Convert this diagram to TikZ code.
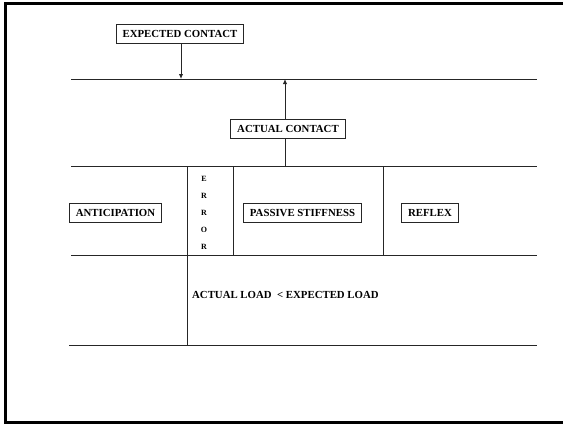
\documentclass[tikz,border=0pt]{standalone}
\usepackage{fontspec}
\setmainfont{Liberation Serif}
\usetikzlibrary{arrows.meta}
\definecolor{lnclr}{rgb}{0.15,0.15,0.15}

\begin{document}
\begin{tikzpicture}[line cap=butt,line join=miter,x=1pt,y=-1pt,
  lbox/.style={draw=lnclr,line width=0.9pt,inner xsep=6.5pt,minimum height=19pt,font=\fontsize{10.8}{12}\selectfont\bfseries},
  lbl/.style={inner sep=0pt,font=\fontsize{10.8}{12}\selectfont\bfseries},
  errl/.style={inner sep=0pt,font=\fontsize{8}{9}\selectfont\bfseries},
  ln/.style={draw=lnclr,line width=1pt},
  >={Latex[length=5pt,width=4.5pt]}]
\useasboundingbox (0,0) rectangle (563,424);
%\draw [help lines] (0,0) grid[step=50] (563,424);
% frame, open on the right
\draw [line width=3pt] (563,3.5)-- (5,3.5)-- (5,422.5)-- (563,422.5);
% horizontal rules
\coordinate (ta) at (71,79);
\coordinate (tb) at (537,79);
\coordinate (ma) at (71,166);
\coordinate (mb) at (537,166);
\coordinate (la) at (71,255);
\coordinate (lb) at (537,255);
\coordinate (ba) at (69,345);
\coordinate (bb) at (537,345);
\draw [ln] (ta)-- (tb);
\draw [ln] (ma)-- (mb);
\draw [ln] (la)-- (lb);
\draw [ln] (ba)-- (bb);
% vertical rules
\coordinate (va) at (187,166);
\coordinate (vb) at (187,345);
\coordinate (vc) at (233,166);
\coordinate (vd) at (233,255);
\coordinate (ve) at (383,166);
\coordinate (vf) at (383,255);
\draw [ln] (va)-- (vb);
\draw [ln] (vc)-- (vd);
\draw [ln] (ve)-- (vf);
% boxes
\node [lbox] (expc) at (180,34) {EXPECTED CONTACT};
\node [lbox] (actc) at (288,129) {ACTUAL CONTACT};
\node [lbox] (antic) at (115.5,213) {ANTICIPATION};
\node [lbox] (pasv) at (302.5,213) {PASSIVE STIFFNESS};
\node [lbox] (refl) at (430,213) {REFLEX};
% arrows
\coordinate (xa) at (181,79);
\coordinate (xb) at (285,79);
\coordinate (xc) at (285,166);
\draw [ln,->] (expc.south -| xa)-- (xa);
\draw [ln,->] (actc.north -| xb)-- (xb);
\draw [ln] (actc.south -| xc)-- (xc);
% error column
\node [errl] (e1) at (204,179) {E};
\node [errl] (e2) at (204,196) {R};
\node [errl] (e3) at (204,213) {R};
\node [errl] (e4) at (204,230) {O};
\node [errl] (e5) at (204,247) {R};
% load text
\node [lbl,anchor=west] (load) at (192,295) {ACTUAL LOAD\ \ < EXPECTED LOAD};
\end{tikzpicture}
\end{document}
